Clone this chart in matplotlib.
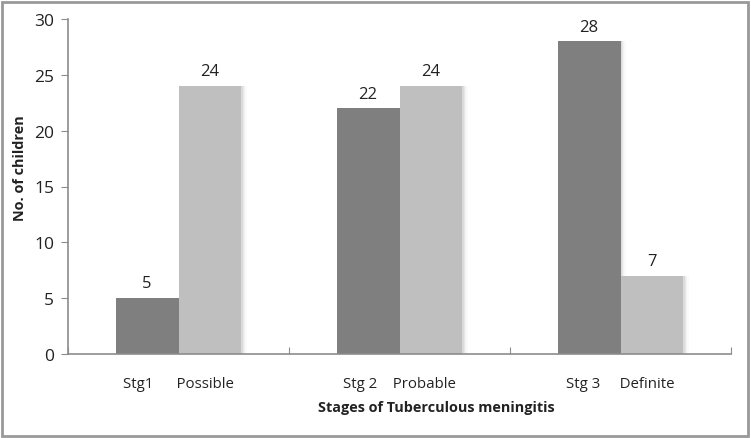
import matplotlib.pyplot as plt
import matplotlib.patches as mpatches
import numpy as np

plt.rcParams['font.family'] = ['Open Sans', 'DejaVu Sans']

categories = ['Stg1      Possible', 'Stg 2    Probable', 'Stg 3     Definite']
stage_counts = [5, 22, 28]
diagnosis_counts = [24, 24, 7]

dark = '#7f7f7f'
light = '#bfbfbf'
axis_grey = '#8c8c8c'

fig = plt.figure(figsize=(7.51, 4.39), dpi=100)
ax = fig.add_axes([68 / 751, 1 - 355 / 439, (731 - 68) / 751, (355 - 20) / 439])

x = np.arange(len(categories))
w = 0.285

# soft shadow behind the bars
for off, a in [(0.006, 0.05), (0.012, 0.04), (0.018, 0.03), (0.024, 0.02)]:
    ax.bar(x - w / 2 + off, stage_counts, w, color='black', alpha=a, zorder=1, linewidth=0)
    ax.bar(x + w / 2 + off, diagnosis_counts, w, color='black', alpha=a, zorder=1, linewidth=0)

b1 = ax.bar(x - w / 2, stage_counts, w, color=dark, zorder=2)
b2 = ax.bar(x + w / 2, diagnosis_counts, w, color=light, zorder=2)

for bars in (b1, b2):
    for r in bars:
        ax.text(r.get_x() + r.get_width() / 2, r.get_height() + 0.6, str(int(r.get_height())),
                ha='center', va='bottom', fontsize=12, color='#222222')

ax.set_xlim(-0.5, 2.5)
ax.set_ylim(0, 30)
ax.set_yticks(range(0, 31, 5))
ax.set_xticks([-0.5, 0.5, 1.5, 2.5], minor=False)
ax.set_xticklabels([])
ax.set_xticks(x, minor=True)
ax.set_xticklabels(categories, minor=True)
ax.tick_params(axis='x', which='minor', length=0, pad=16, labelsize=10.8, labelcolor='#222222')
ax.tick_params(axis='x', which='major', length=5, direction='in', color=axis_grey)
ax.tick_params(axis='y', length=5, direction='out', color=axis_grey, labelsize=12.5,
               labelcolor='#222222', pad=5)

for s in ['top', 'right']:
    ax.spines[s].set_visible(False)
for s in ['left', 'bottom']:
    ax.spines[s].set_color(axis_grey)
    ax.spines[s].set_linewidth(1.2)

fig.text(436 / 751, 1 - 408 / 439, 'Stages of Tuberculous meningitis', ha='center', va='center',
         fontsize=10.4, fontweight='bold', color='#222222')
fig.text(20 / 751, 1 - 168 / 439, 'No. of children', ha='center', va='center', rotation=90,
         fontsize=10.4, fontweight='bold', color='#222222')

fig.patches.append(mpatches.Rectangle((2 / 751, 2 / 439), 746 / 751, 434 / 439, fill=False,
                                      edgecolor='#999999', linewidth=2, transform=fig.transFigure))

fig.savefig('out.png', dpi=100, facecolor='white')
